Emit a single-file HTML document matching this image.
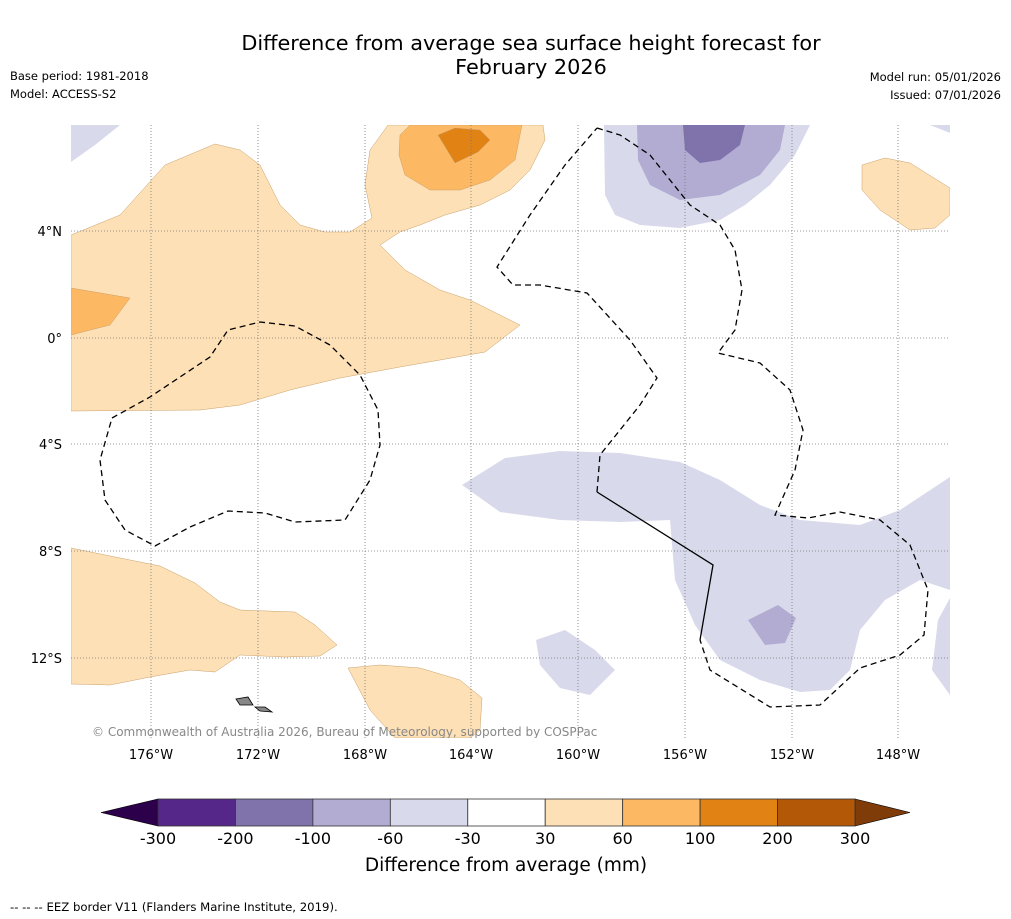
<!DOCTYPE html>
<html><head><meta charset="utf-8">
<style>
html,body{margin:0;padding:0;background:#fff;}
svg{display:block;font-family:"DejaVu Sans","Liberation Sans",sans-serif;}
</style></head>
<body>
<svg width="1011" height="919" viewBox="0 0 1011 919">
<text x="531" y="50" font-size="20.8" text-anchor="middle">Difference from average sea surface height forecast for</text>
<text x="531" y="74" font-size="20.8" text-anchor="middle">February 2026</text>
<text x="10" y="80" font-size="11.5">Base period: 1981-2018</text>
<text x="10" y="98" font-size="11.5">Model: ACCESS-S2</text>
<text x="1001" y="81" font-size="11.5" text-anchor="end">Model run: 05/01/2026</text>
<text x="1001" y="99" font-size="11.5" text-anchor="end">Issued: 07/01/2026</text>

<defs><clipPath id="mc"><rect x="71" y="125" width="879" height="613"/></clipPath></defs>
<g clip-path="url(#mc)">
<rect x="71" y="125" width="879" height="613" fill="#fff"/>
<g stroke="#c9a06a" stroke-width="0.5">
<path fill="#fee0b6" d="M71,235 L120,215 L165,165 L215,144 L240,150 L260,165 L280,205 L300,225 L325,232 L350,232 L372,218 L365,185 L370,150 L388,125 L543,125 L545,140 L530,170 L510,190 L480,205 L445,215 L420,225 L400,232 L380,245 L405,270 L440,290 L470,300 L520,325 L485,352 L440,360 L400,367 L340,378 L290,390 L240,405 L200,410 L71,411 Z"/>
<path fill="#fdb863" d="M400,135 L410,125 L522,125 L515,160 L490,180 L460,190 L430,190 L405,175 L399,155 Z"/>
<path fill="#e08214" d="M438,135 L455,128 L480,130 L490,140 L478,152 L455,163 Z"/>
<path fill="#fdb863" d="M71,288 L130,298 L110,325 L71,335 Z"/>
<path fill="#fee0b6" d="M862,165 L885,158 L910,163 L950,188 L950,215 L935,228 L910,230 L880,210 L862,190 Z"/>
<path fill="#fee0b6" d="M71,548 L120,558 L160,566 L195,583 L220,602 L240,610 L295,612 L315,625 L337,645 L320,656 L285,657 L240,655 L215,672 L190,670 L150,677 L110,685 L71,684 Z"/>
<path fill="#fee0b6" d="M348,668 L380,665 L420,668 L460,680 L482,698 L480,730 L470,738 L395,738 L370,710 Z"/>
</g>
<g>
<path fill="#d8daeb" d="M71,125 L120,125 L95,145 L71,162 Z"/>
<path fill="#d8daeb" d="M930,125 L950,125 L950,133 Z"/>
<path fill="#d8daeb" d="M604,125 L810,125 L795,155 L770,185 L745,205 L720,220 L680,228 L640,225 L615,215 L605,195 Z"/>
<path fill="#b2abd2" d="M637,125 L785,125 L780,150 L760,175 L720,195 L680,200 L650,185 L638,160 Z"/>
<path fill="#8073ac" d="M683,125 L745,125 L740,145 L720,160 L700,163 L685,150 Z"/>
<path fill="#d8daeb" d="M462,485 L505,458 L560,451 L620,453 L680,462 L720,480 L760,505 L800,520 L860,525 L900,510 L950,477 L950,590 L920,580 L885,600 L860,630 L850,670 L830,690 L800,692 L760,680 L720,660 L695,625 L675,580 L670,520 L620,522 L560,520 L500,512 Z"/>
<path fill="#b2abd2" d="M748,620 L778,605 L796,618 L785,643 L765,645 Z"/>
<path fill="#d8daeb" d="M536,640 L565,630 L595,650 L615,670 L590,695 L560,688 L540,665 Z"/>
<path fill="#d8daeb" d="M950,598 L938,620 L932,670 L950,695 Z"/>
</g>
<g stroke="#777" stroke-width="0.8" stroke-dasharray="1,2">
<line x1="151" y1="125" x2="151" y2="738"/><line x1="258" y1="125" x2="258" y2="738"/><line x1="365" y1="125" x2="365" y2="738"/><line x1="471" y1="125" x2="471" y2="738"/><line x1="578" y1="125" x2="578" y2="738"/><line x1="685" y1="125" x2="685" y2="738"/><line x1="792" y1="125" x2="792" y2="738"/><line x1="898" y1="125" x2="898" y2="738"/>
<line x1="71" y1="231" x2="950" y2="231"/><line x1="71" y1="338" x2="950" y2="338"/><line x1="71" y1="444" x2="950" y2="444"/><line x1="71" y1="551" x2="950" y2="551"/><line x1="71" y1="658" x2="950" y2="658"/>
</g>
<g fill="none" stroke="#000" stroke-width="1.3" stroke-dasharray="6,4">
<path d="M597,128 L620,135 L650,155 L670,180 L690,205 L720,225 L735,250 L742,290 L735,330 L718,353 L760,363 L790,390 L803,430 L795,470 L775,515 L808,518 L840,512 L880,520 L910,545 L928,590 L924,635 L900,655 L860,668 L820,705 L770,707 L710,670 L700,640"/>
<path d="M597,492 L600,455 L620,430 L640,405 L657,378 L630,340 L587,293 L540,285 L513,285 L497,267 L530,215 L565,165 L597,128"/>
<path d="M112,418 L150,397 L210,357 L228,330 L260,322 L295,326 L330,345 L360,375 L378,410 L380,445 L370,480 L345,520 L295,522 L265,513 L228,511 L190,527 L155,546 L125,530 L105,500 L100,460 Z"/>
</g>
<path d="M597,492 L713,565 L700,640" fill="none" stroke="#000" stroke-width="1.3"/>
<path d="M236,699 L248,697 L253,705 L240,705 Z M255,707 L265,707 L272,712 L260,711 Z" fill="#888" stroke="#000" stroke-width="0.8"/>
<text x="92" y="736" font-size="12" fill="#888">© Commonwealth of Australia 2026, Bureau of Meteorology, supported by COSPPac</text>
</g>

<g font-size="13">
<text x="62" y="236" text-anchor="end">4°N</text>
<text x="62" y="343" text-anchor="end">0°</text>
<text x="62" y="449" text-anchor="end">4°S</text>
<text x="62" y="556" text-anchor="end">8°S</text>
<text x="62" y="663" text-anchor="end">12°S</text>
</g>
<g font-size="13" text-anchor="middle">
<text x="151" y="759">176°W</text><text x="258" y="759">172°W</text><text x="365" y="759">168°W</text><text x="471" y="759">164°W</text><text x="578" y="759">160°W</text><text x="685" y="759">156°W</text><text x="792" y="759">152°W</text><text x="898" y="759">148°W</text>
</g>

<g id="cbar"></g>
<text x="506" y="871" font-size="18.5" text-anchor="middle">Difference from average (mm)</text>
<text x="10" y="911" font-size="11.7">--  --  -- EEZ border V11 (Flanders Marine Institute, 2019).</text>
</svg>
<script>
const boundaries = [-300,-200,-100,-60,-30,30,60,100,200,300];
const colors = ["#542788","#8073ac","#b2abd2","#d8daeb","#ffffff","#fee0b6","#fdb863","#e08214","#b35806"];
const extendColors = ["#2d004b","#7f3b08"];
const NS="http://www.w3.org/2000/svg";
const g=document.getElementById('cbar');
const x0=158,x1=855,y0=799,y1=826;
const segW=(x1-x0)/colors.length;
function bx(i){return x0+i*segW;}
function mk(t,a){const e=document.createElementNS(NS,t);for(const k in a)e.setAttribute(k,a[k]);g.appendChild(e);return e;}
const lt=mk('polygon',{points:`${x0},${y0} ${x0},${y1} 101,${(y0+y1)/2}`,fill:extendColors[0],stroke:'#000','stroke-width':0.6});


const rt=mk('polygon',{points:`${x1},${y0} ${x1},${y1} 910,${(y0+y1)/2}`,fill:extendColors[1],stroke:'#000','stroke-width':0.6});


colors.forEach((c,i)=>{
  const r=mk('rect',{x:bx(i),y:y0,width:segW,height:y1-y0,fill:c,stroke:'#333','stroke-width':0.8});
  
  
});
boundaries.forEach((b,i)=>{
  const t=mk('text',{x:bx(i),y:844,'font-size':16,'text-anchor':'middle'});
  t.textContent=b;
  
  
});
</script>
</body></html>
